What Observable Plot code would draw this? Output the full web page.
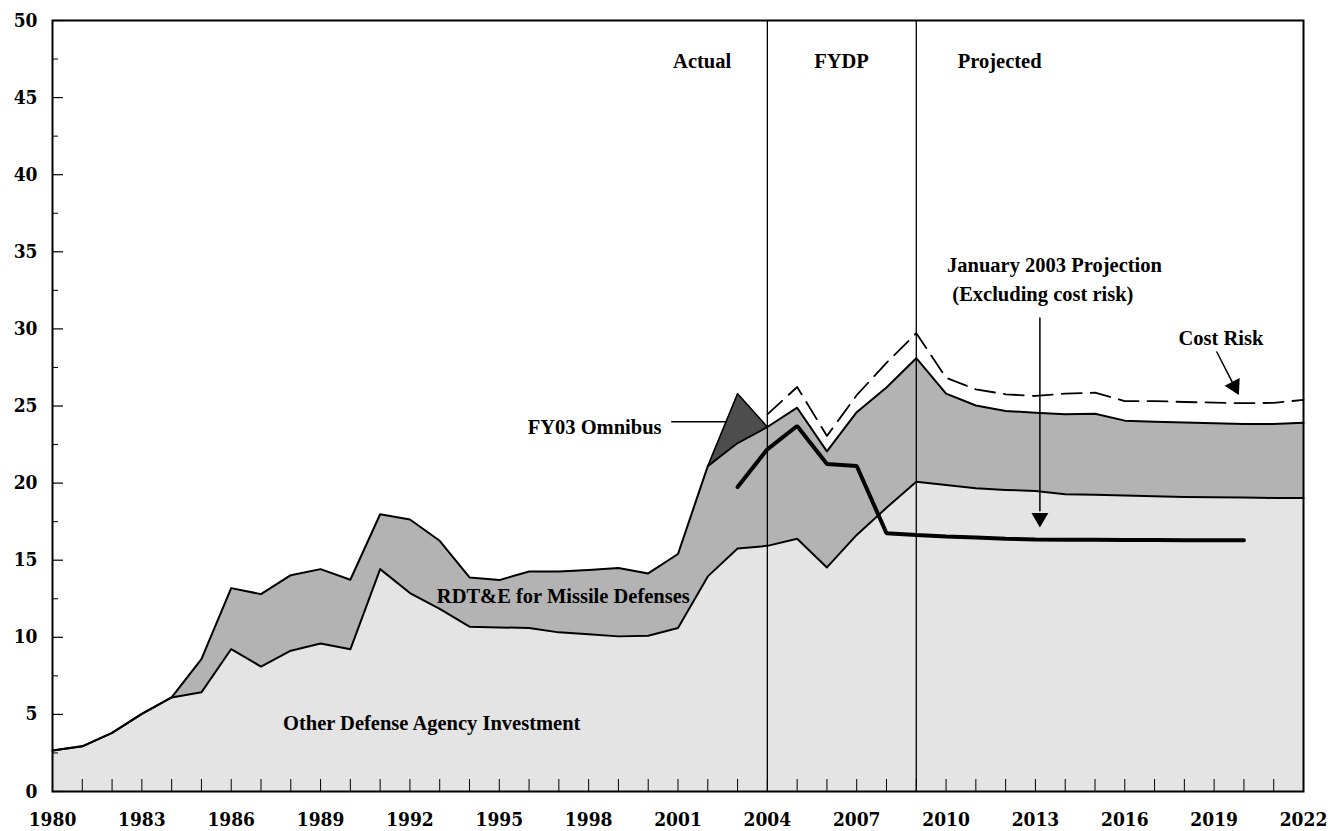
<!DOCTYPE html>
<html>
<head>
<meta charset="utf-8">
<script src="https://cdn.jsdelivr.net/npm/d3@7"></script>
<script src="https://cdn.jsdelivr.net/npm/@observablehq/plot@0.6"></script>
<style>
  html, body { margin: 0; padding: 0; background: #ffffff; }
  svg { display: block; }
</style>
</head>
<body>
<div id="chart"></div>
<script>
// ---- Data (billions of dollars) ----
const years = d3.range(1980, 2023);

// Other Defense Agency Investment (bottom layer)
const otherInvestment = [
  2.66, 2.93, 3.80, 5.03, 6.10, 6.43, 9.24, 8.10, 9.13, 9.60,
  9.22, 14.42, 12.87, 11.85, 10.69, 10.64, 10.60, 10.32, 10.20, 10.06,
  10.10, 10.60, 13.95, 15.76, 15.93, 16.39, 14.53, 16.64, 18.40, 20.08,
  19.88, 19.67, 19.56, 19.49, 19.28, 19.24, 19.19, 19.15, 19.10, 19.08,
  19.06, 19.04, 19.04
];

// RDT&E for Missile Defenses (stacked on top)
const rdteMissile = [
  0, 0, 0, 0, 0, 2.16, 3.95, 4.70, 4.90, 4.82,
  4.51, 3.56, 4.77, 4.41, 3.19, 3.07, 3.67, 3.95, 4.16, 4.43,
  4.04, 4.80, 7.15, 6.84, 7.71, 8.50, 7.53, 7.96, 7.80, 8.02,
  5.92, 5.36, 5.12, 5.08, 5.18, 5.26, 4.86, 4.83, 4.83, 4.80,
  4.77, 4.80, 4.88
];

// FY03 Omnibus (stacked on top of total)
const omnibusYears = [2002, 2003, 2004];
const omnibusValues = [0, 3.2, 0];

// Total including cost risk (dashed line)
const costRiskYears = d3.range(2004, 2023);
const costRiskTotal = [
  24.46, 26.23, 23.06, 25.70, 27.80, 29.72, 26.83, 26.08, 25.76, 25.65,
  25.80, 25.86, 25.32, 25.32, 25.26, 25.22, 25.18, 25.20, 25.40
];

// January 2003 Projection (excluding cost risk)
const janYears = d3.range(2003, 2021);
const janProjection = [
  19.75, 22.19, 23.70, 21.24, 21.11, 16.75, 16.64, 16.54, 16.47, 16.39,
  16.34, 16.33, 16.32, 16.31, 16.31, 16.30, 16.30, 16.30
];

const periodBoundaries = [2004, 2009];
const xTickLabels = d3.range(1980, 2023, 3);
const yTickLabels = d3.range(0, 51, 5);

// Annotation labels (positions in data units)
const labelText = ["Actual", "FYDP", "Projected", "January 2003 Projection", "(Excluding cost risk)",
                   "Cost Risk", "FY03 Omnibus", "RDT&E for Missile Defenses", "Other Defense Agency Investment"];
const labelX = [2001.81, 2006.49, 2011.80, 2013.64, 2013.25, 2019.23, 1998.20, 1997.15, 1992.73];
const labelY = [47.34, 47.34, 47.34, 34.13, 32.25, 29.40, 23.64, 12.63, 4.40];

// ---- Build tables ----
const rows = years.map((year, i) => ({
  year,
  other: otherInvestment[i],
  total: otherInvestment[i] + rdteMissile[i]
}));
const totalByYear = new Map(rows.map(d => [d.year, d.total]));
const omnibusRows = omnibusYears.map((year, i) => ({
  year, base: totalByYear.get(year), top: totalByYear.get(year) + omnibusValues[i]
}));
const costRows = costRiskYears.map((year, i) => ({year, value: costRiskTotal[i]}));
const janRows = janYears.map((year, i) => ({year, value: janProjection[i]}));
const labels = labelText.map((text, i) => ({text, x: labelX[i], y: labelY[i]}));

// Arrows (annotation pointers)
const janArrowShaft = [{x: 2013.15, y: 30.7}, {x: 2013.15, y: 18.2}];
const janArrowHead = [{x: 2013.15, y: 17.75, rotate: 180}];
const riskArrowShaft = [{x: 2019.09, y: 28.5}, {x: 2019.60, y: 26.58}];
const riskArrowHead = [{x: 2019.68, y: 26.28, rotate: 153}];
const omnibusLeader = [{x: 2000.79, y: 23.98}, {x: 2002.62, y: 23.98}];

const font = "'Liberation Serif', 'Times New Roman', serif";
const tickFont = "'DejaVu Serif Condensed', 'DejaVu Serif', serif";

const chart = Plot.plot({
  width: 1330,
  height: 831,
  marginLeft: 52,
  marginRight: 27,
  marginTop: 20,
  marginBottom: 40,
  style: {fontFamily: font, background: "#ffffff", color: "#000000"},
  x: {domain: [1980, 2022]},
  y: {domain: [0, 50]},
  marks: [
    Plot.areaY(rows, {x: "year", y1: 0, y2: "other", fill: "#e4e4e4"}),
    Plot.areaY(rows, {x: "year", y1: "other", y2: "total", fill: "#b3b3b3"}),
    Plot.areaY(omnibusRows, {x: "year", y1: "base", y2: "top", fill: "#4d4d4d"}),
    Plot.ruleX(periodBoundaries, {y1: 0, y2: 50, stroke: "#000", strokeWidth: 1.3}),
    Plot.lineY(rows, {x: "year", y: "other", stroke: "#000", strokeWidth: 2}),
    Plot.lineY(rows, {x: "year", y: "total", stroke: "#000", strokeWidth: 2}),
    Plot.lineY(omnibusRows, {x: "year", y: "top", stroke: "#000", strokeWidth: 1.5}),
    Plot.lineY(costRows, {x: "year", y: "value", stroke: "#000", strokeWidth: 1.8, strokeDasharray: "20,9"}),
    Plot.lineY(janRows, {x: "year", y: "value", stroke: "#000", strokeWidth: 4, strokeLinejoin: "miter"}),
    // annotation pointers
    Plot.line(janArrowShaft, {x: "x", y: "y", stroke: "#000", strokeWidth: 1.5}),
    Plot.dot(janArrowHead, {x: "x", y: "y", symbol: "triangle", r: 6.3, fill: "#000", rotate: "rotate"}),
    Plot.line(riskArrowShaft, {x: "x", y: "y", stroke: "#000", strokeWidth: 1.5}),
    Plot.dot(riskArrowHead, {x: "x", y: "y", symbol: "triangle", r: 6.3, fill: "#000", rotate: "rotate"}),
    Plot.line(omnibusLeader, {x: "x", y: "y", stroke: "#000", strokeWidth: 1.5}),
    // axes
    Plot.axisX({ticks: years, tickSize: 12, dy: -12, tickFormat: () => "", strokeWidth: 1}),
    Plot.axisX({ticks: xTickLabels, tickSize: 0, tickPadding: 21, tickFormat: d => String(d),
                fontSize: 19, fontWeight: "bold", fontFamily: tickFont}),
    Plot.axisY({ticks: yTickLabels, tickSize: 11, dx: 11, tickFormat: () => "", strokeWidth: 1.2}),
    Plot.axisY({ticks: d3.range(2.5, 50, 5), tickSize: 6, dx: 6, tickFormat: () => "", strokeWidth: 1}),
    Plot.axisY({ticks: yTickLabels, tickSize: 0, tickPadding: 15, tickFormat: d => String(d),
                fontSize: 19, fontWeight: "bold", fontFamily: tickFont}),
    Plot.frame({stroke: "#000", strokeWidth: 2}),
    Plot.text(labels, {x: "x", y: "y", text: "text", fontSize: 20.5, fontWeight: "bold",
                       fontFamily: font, fill: "#000"})
  ]
});
document.getElementById("chart").appendChild(chart);
</script>
</body>
</html>
